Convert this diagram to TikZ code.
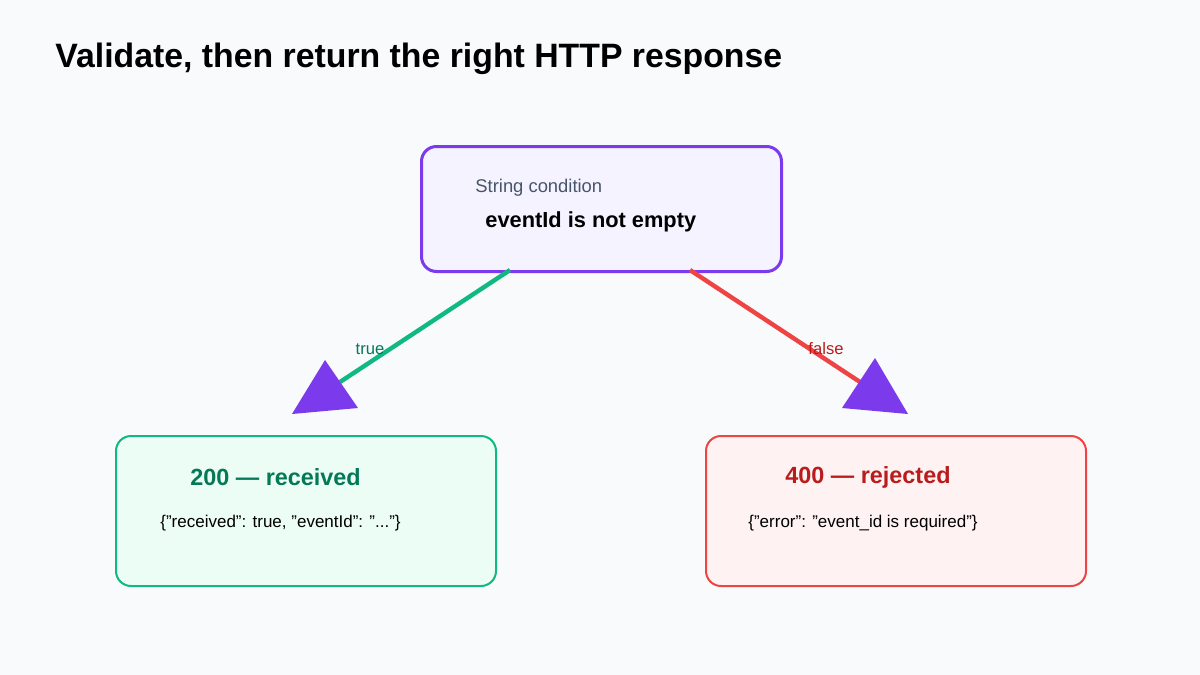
\documentclass[tikz,border=0pt]{standalone}
\usepackage{fontspec}
\setmainfont{Liberation Sans}
\definecolor{bg}{HTML}{F8FAFC}
\definecolor{pur}{HTML}{7C3AED}
\definecolor{purf}{HTML}{F5F3FF}
\definecolor{grn}{HTML}{10B981}
\definecolor{grnf}{HTML}{ECFDF5}
\definecolor{grnt}{HTML}{047857}
\definecolor{red1}{HTML}{EF4444}
\definecolor{redf}{HTML}{FEF2F2}
\definecolor{redt}{HTML}{B91C1C}
\definecolor{slate}{HTML}{475569}
\newcommand{\q}{\char34\relax}
\begin{document}
\begin{tikzpicture}[x=0.5pt,y=-0.5pt,
  box/.style={draw=#1,line width=1pt,rounded corners=7.5pt,anchor=north west,inner sep=0pt},
  txt/.style={anchor=west,inner sep=0pt},
  head/.style={fill=pur,draw=none}]
\fill[bg] (0,0) rectangle (1200,675);
\useasboundingbox (0,0) rectangle (1200,675);
\node[txt,font=\bfseries\fontsize{16.9}{19}\selectfont] (title) at (55,59) {Validate, then return the right HTTP response};
\node[box=pur,fill=purf,line width=1.5pt,minimum width=180pt,minimum height=62.5pt] (cond) at (420,145) {};
\node[txt,font=\fontsize{9.2}{11}\selectfont,text=slate] (cl) at (475,188) {String condition};
\node[txt,font=\bfseries\fontsize{10.9}{12}\selectfont] (ct) at (485,222) {eventId is not empty};
\node[box=grn,fill=grnf,minimum width=190pt,minimum height=75pt] (ok) at (115,435) {};
\node[txt,font=\bfseries\fontsize{11.7}{13}\selectfont,text=grnt] (okt) at (190,477) {200 — received};
\node[txt,font=\fontsize{8.5}{10}\selectfont] (okj) at (160,523) {\{\q received\q: true, \q eventId\q: \q...\q\}};
\node[box=red1,fill=redf,minimum width=190pt,minimum height=75pt] (bad) at (705,435) {};
\node[txt,font=\bfseries\fontsize{11.7}{13}\selectfont,text=redt] (badt) at (785,477) {400 — rejected};
\node[txt,font=\fontsize{8.5}{10}\selectfont] (badj) at (748,523) {\{\q error\q: \q event\_id is required\q\}};
\coordinate (g0) at (510,270); \coordinate (g1) at (340,382);
\coordinate (r0) at (690,270); \coordinate (r1) at (860,382);
\draw[grn,line width=2.2pt] (g0) -- (g1);
\draw[red1,line width=2.2pt] (r0) -- (r1);
\fill[head] (325,360) -- (358,408) -- (292,414) -- cycle;
\fill[head] (875,358) -- (908,414) -- (842,408) -- cycle;
\node[font=\fontsize{8.3}{10}\selectfont,text=grnt] (tl) at (370,349) {true};
\node[font=\fontsize{8.3}{10}\selectfont,text=redt] (fl) at (826,349) {false};
\end{tikzpicture}
\end{document}
